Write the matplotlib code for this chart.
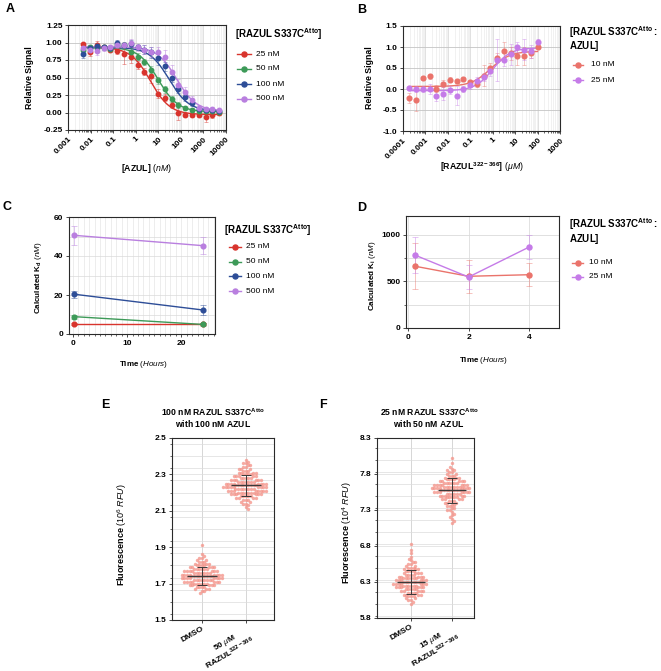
import numpy as np
import matplotlib
matplotlib.use("Agg")
import matplotlib.pyplot as plt
from matplotlib.lines import Line2D
from matplotlib.colors import to_rgba
from matplotlib.ticker import LogLocator, NullFormatter, MultipleLocator

plt.rcParams['font.family'] = ['Liberation Sans', 'DejaVu Sans']
plt.rcParams['mathtext.fontset'] = 'custom'
plt.rcParams['mathtext.rm'] = 'Liberation Sans'
plt.rcParams['mathtext.it'] = 'Liberation Sans:italic'
plt.rcParams['mathtext.bf'] = 'Liberation Sans:bold'
plt.rcParams['mathtext.sf'] = 'Liberation Sans'

# ---------------- DATA ----------------
# Panel A : [AZUL] (nM) titration, 4 probe concentrations
azul_nM = [0.00477, 0.00954, 0.0191, 0.0381, 0.0763, 0.153, 0.305, 0.610, 1.22, 2.44,
           4.88, 9.77, 19.5, 39.1, 78.1, 156, 313, 625, 1250, 2500, 5000]
a_labels = ['25 nM', '50 nM', '100 nM', '500 nM']
a_25 = [0.98, 0.87, 0.97, 0.93, 0.89, 0.88, 0.84, 0.80, 0.68, 0.58, 0.52, 0.27, 0.21, 0.11,
        -0.01, -0.03, -0.03, -0.03, -0.06, -0.04, -0.01]
a_50 = [0.90, 0.93, 0.92, 0.93, 0.91, 0.96, 0.97, 0.87, 0.80, 0.72, 0.61, 0.46, 0.33, 0.19,
        0.11, 0.06, 0.04, 0.02, 0.02, 0.02, 0.01]
a_100 = [0.84, 0.92, 0.95, 0.93, 0.92, 1.00, 0.96, 0.98, 0.93, 0.90, 0.86, 0.78, 0.66, 0.49,
         0.33, 0.22, 0.13, 0.05, 0.04, 0.03, 0.02]
a_500 = [0.92, 0.90, 0.88, 0.92, 0.94, 0.97, 0.97, 1.00, 0.93, 0.90, 0.87, 0.86, 0.79, 0.58,
         0.40, 0.30, 0.18, 0.07, 0.05, 0.05, 0.03]
a_err_25 = [0.02, 0.06, 0.05, 0.02, 0.03, 0.04, 0.15, 0.10, 0.06, 0.05, 0.10, 0.06, 0.05, 0.04,
            0.10, 0.04, 0.04, 0.04, 0.08, 0.04, 0.03]
a_err_50 = [0.04, 0.04, 0.05, 0.03, 0.03, 0.04, 0.04, 0.05, 0.05, 0.04, 0.05, 0.05, 0.05, 0.04,
            0.04, 0.03, 0.03, 0.02, 0.02, 0.02, 0.02]
a_err_100 = [0.06, 0.05, 0.04, 0.03, 0.03, 0.03, 0.03, 0.05, 0.04, 0.06, 0.08, 0.10, 0.06, 0.06,
             0.05, 0.05, 0.04, 0.03, 0.03, 0.02, 0.02]
a_err_500 = [0.04, 0.05, 0.06, 0.04, 0.03, 0.05, 0.04, 0.05, 0.05, 0.06, 0.07, 0.08, 0.10, 0.10,
             0.08, 0.06, 0.05, 0.04, 0.03, 0.03, 0.02]
# fit parameters (top, bottom, IC50 nM, hill)
a_fit = [(0.93, -0.03, 4.5, 1.0), (0.93, 0.01, 10.0, 1.0), (0.93, 0.02, 30.0, 1.0), (0.94, 0.02, 65.0, 1.0)]

# Panel B : [RAZUL 322-366] (uM)
razul_uM = [0.000191, 0.000381, 0.000763, 0.00153, 0.00305, 0.00610, 0.0122, 0.0244, 0.0488,
            0.0977, 0.195, 0.391, 0.781, 1.56, 3.13, 6.25, 12.5, 25.0, 50.0, 100.0]
b_labels = ['10 nM', '25 nM']
b_10 = [-0.21, -0.27, 0.27, 0.30, 0.01, 0.13, 0.22, 0.19, 0.24, 0.17, 0.13, 0.31, 0.50, 0.75,
        0.91, 0.85, 0.78, 0.78, 0.85, 1.00]
b_25 = [0.03, -0.01, -0.01, 0.01, -0.16, -0.11, -0.03, -0.16, 0.00, 0.09, 0.19, 0.29, 0.43, 0.69,
        0.70, 0.83, 1.00, 0.94, 0.90, 1.13]
b_err_10 = [0.12, 0.26, 0.05, 0.06, 0.08, 0.08, 0.06, 0.05, 0.05, 0.05, 0.08, 0.25, 0.12, 0.10,
            0.20, 0.15, 0.22, 0.22, 0.10, 0.05]
b_err_25 = [0.05, 0.05, 0.06, 0.12, 0.12, 0.15, 0.10, 0.22, 0.06, 0.08, 0.10, 0.10, 0.12, 0.50,
            0.15, 0.25, 0.12, 0.25, 0.15, 0.05]
b_fit = [(0.90, 0.06, 0.8, 1.0), (0.98, -0.04, 1.0, 1.1)]

# Panel C : calculated Kd (nM) vs time (h)
time_c = [0.25, 24]
c_labels = ['25 nM', '50 nM', '100 nM', '500 nM']
kd_25 = [5.0, 5.0]
kd_50 = [8.9, 4.9]
kd_100 = [20.4, 12.3]
kd_500 = [50.6, 45.3]
kd_err_25 = [0.5, 0.5]
kd_err_50 = [1.0, 0.8]
kd_err_100 = [1.8, 2.5]
kd_err_500 = [4.8, 4.3]

# Panel D : calculated Ki (nM) vs time (h)
time_d = [0.25, 2, 4]
d_labels = ['10 nM', '25 nM']
ki_10 = [661, 554, 571]
ki_25 = [779, 546, 868]
ki_err_10 = [245, 178, 122]
ki_err_25 = [195, 125, 130]

# Panel E : fluorescence (10^6 RFU), swarm as histogram (level start, step, counts)
e_step = 0.01
e_dmso_start = 1.65
e_dmso_counts = [1, 2, 3, 4, 5, 6, 7, 8, 8, 9, 8, 7, 7, 6, 5, 4, 3, 3, 2, 2, 1, 1, 0, 0, 0, 0, 1]
e_razul_start = 2.11
e_razul_counts = [1, 1, 1, 2, 2, 3, 4, 5, 6, 7, 8, 8, 9, 9, 8, 7, 6, 5, 5, 4, 4, 3, 3, 2, 2, 2, 1, 1]
# Panel F : fluorescence (10^4 RFU)
f_step = 0.025
f_dmso_start = 6.0
f_dmso_counts = [1, 1, 2, 2, 3, 4, 4, 5, 5, 6, 6, 7, 7, 6, 6, 5, 4, 4, 4, 3, 3, 2, 2, 2, 1, 1, 1,
                 0, 1, 0, 1, 0, 0, 1]
f_razul_start = 7.125
f_razul_counts = [1, 1, 1, 1, 1, 1, 1, 2, 2, 2, 2, 3, 3, 4, 5, 5, 6, 7, 8, 8, 7, 7, 6, 5, 4, 3,
                  3, 2, 2, 2, 1, 1, 0, 1, 0, 0, 1]

# ---------------- STYLE ----------------
col_A = ['#d8342d', '#3d9a58', '#2d4d97', '#b97fdf']
col_B = ['#ea736b', '#c57be8']
dot_col = '#f4968c'

W, H = 661, 671
fig = plt.figure(figsize=(W / 100, H / 100), dpi=100)


def px_axes(l, t, r, b):
    return fig.add_axes([l / W, 1 - b / H, (r - l) / W, (b - t) / H])


def ftext(x, y, s, **kw):
    return fig.text(x / W, 1 - y / H, s, **kw)


def style(ax):
    for s in ax.spines.values():
        s.set_color('#2a2a2a')
        s.set_linewidth(0.8)
    ax.tick_params(which='major', length=2.5, width=0.6, labelsize=6, pad=1.5, color='#2a2a2a')
    ax.tick_params(which='minor', length=1.5, width=0.5, color='#2a2a2a')
    ax.set_axisbelow(True)


def legend_item(x0, x1, y, color, label, tx, ms=3.6):
    yy = 1 - y / H
    fig.add_artist(Line2D([x0 / W, x1 / W], [yy, yy], color=color, lw=1.0, transform=fig.transFigure))
    fig.add_artist(Line2D([(x0 + x1) / 2 / W], [yy], color=color, marker='o', ms=ms, lw=0,
                          transform=fig.transFigure))
    fig.text(tx / W, yy, label, fontsize=6, va='center', ha='left')


def bold_ticks(ax, axis, ticks, labels, **kw):
    if axis == 'x':
        ax.set_xticks(ticks, labels=labels, fontweight='bold', fontsize=6, **kw)
    else:
        ax.set_yticks(ticks, labels=labels, fontweight='bold', fontsize=6, **kw)


def four_pl(x, top, bot, c50, hill, sign):
    return bot + (top - bot) / (1 + (x / c50) ** (sign * hill))


# ---------------- PANEL A ----------------
axA = px_axes(68, 25, 226, 130)
style(axA)
axA.set_xscale('log')
axA.set_xlim(1e-3, 1e4)
axA.set_ylim(-0.25, 1.25)
xs = np.logspace(np.log10(azul_nM[0]), np.log10(azul_nM[-1]), 300)
for vals, errs, fit, c in zip([a_25, a_50, a_100, a_500],
                              [a_err_25, a_err_50, a_err_100, a_err_500], a_fit, col_A):
    axA.plot(xs, four_pl(xs, *fit, 1), color=c, lw=1.0, zorder=3)
    axA.errorbar(azul_nM, vals, yerr=errs, fmt='o', ms=3.2, color=c, ecolor=to_rgba(c, 0.5),
                 elinewidth=0.6, capsize=1.5, capthick=0.6, zorder=4)
xt = [1e-3, 1e-2, 1e-1, 1, 10, 100, 1000, 10000]
bold_ticks(axA, 'x', xt, ['0.001', '0.01', '0.1', '1', '10', '100', '1000', '10000'],
           rotation=45, ha='right', rotation_mode='anchor')
axA.xaxis.set_minor_locator(LogLocator(base=10, subs=np.arange(2, 10), numticks=30))
axA.xaxis.set_minor_formatter(NullFormatter())
yt = [-0.25, 0, 0.25, 0.5, 0.75, 1.0, 1.25]
bold_ticks(axA, 'y', yt, ['%.2f' % v for v in yt])
axA.grid(True, which='minor', axis='x', color='#ececec', lw=0.5)
axA.grid(True, which='major', axis='x', color='#dcdcdc', lw=0.6)
axA.grid(True, which='major', axis='y', color='#c4c4c4', lw=0.6)

ftext(29, 78, 'Relative Signal', rotation=90, ha='center', va='center', fontsize=6.3, fontweight='bold')
ftext(147, 168, r'$\mathbf{[AZUL]}$ $\mathit{(nM)}$', ha='center', va='center', fontsize=6.3)
ftext(235, 38.5, r'$\mathbf{[RAZUL\ S337C^{Atto}]}$', ha='left', va='baseline', fontsize=7)
for i, (lab, c) in enumerate(zip(a_labels, col_A)):
    legend_item(237, 251, 54 + 15 * i, c, lab, 256)

# ---------------- PANEL B ----------------
axB = px_axes(403, 26, 560, 131)
style(axB)
axB.set_xscale('log')
axB.set_xlim(1e-4, 1e3)
axB.set_ylim(-1.0, 1.5)
xs = np.logspace(np.log10(razul_uM[0]), np.log10(razul_uM[-1]), 300)
for vals, errs, fit, c in zip([b_10, b_25], [b_err_10, b_err_25], b_fit, col_B):
    axB.plot(xs, four_pl(xs, *fit, -1), color=c, lw=1.0, zorder=3)
    axB.errorbar(razul_uM, vals, yerr=errs, fmt='o', ms=3.4, color=c, ecolor=to_rgba(c, 0.45),
                 elinewidth=0.6, capsize=1.5, capthick=0.6, zorder=4)
xt = [1e-4, 1e-3, 1e-2, 1e-1, 1, 10, 100, 1000]
bold_ticks(axB, 'x', xt, ['0.0001', '0.001', '0.01', '0.1', '1', '10', '100', '1000'],
           rotation=45, ha='right', rotation_mode='anchor')
axB.xaxis.set_minor_locator(LogLocator(base=10, subs=np.arange(2, 10), numticks=30))
axB.xaxis.set_minor_formatter(NullFormatter())
yt = [-1.0, -0.5, 0.0, 0.5, 1.0, 1.5]
bold_ticks(axB, 'y', yt, ['%.1f' % v for v in yt])
axB.grid(True, which='minor', axis='x', color='#ececec', lw=0.5)
axB.grid(True, which='major', axis='x', color='#dcdcdc', lw=0.6)
axB.grid(True, which='major', axis='y', color='#c4c4c4', lw=0.6)

ftext(369, 78, 'Relative Signal', rotation=90, ha='center', va='center', fontsize=6.3, fontweight='bold')
ftext(482, 167, r'$\mathbf{[RAZUL^{322-366}]}$ $\mathit{(\mu M)}$', ha='center', va='center', fontsize=6.3)
ftext(569, 35.5, r'$\mathbf{[RAZUL\ S337C^{Atto}:}$', ha='left', va='baseline', fontsize=7)
ftext(569, 49, r'$\mathbf{AZUL]}$', ha='left', va='baseline', fontsize=7)
for i, (lab, c) in enumerate(zip(b_labels, col_B)):
    legend_item(573, 583, 65 + 15 * i, c, lab, 591)

# ---------------- PANEL C ----------------
axC = px_axes(69, 217, 215, 334)
style(axC)
axC.set_xlim(-0.7, 26.2)
axC.set_ylim(0, 60)
for vals, errs, c in zip([kd_25, kd_50, kd_100, kd_500],
                         [kd_err_25, kd_err_50, kd_err_100, kd_err_500], col_A):
    axC.errorbar(time_c, vals, yerr=errs, fmt='-o', ms=3.4, lw=1.0, color=c,
                 ecolor=to_rgba(c, 0.55), elinewidth=0.6, capsize=2, capthick=0.6, zorder=4)
bold_ticks(axC, 'x', [0, 10, 20], ['0', '10', '20'])
axC.xaxis.set_minor_locator(MultipleLocator(1))
bold_ticks(axC, 'y', [0, 20, 40, 60], ['0', '20', '40', '60'])
axC.yaxis.set_minor_locator(MultipleLocator(10))
axC.tick_params(axis='y', which='minor', length=0)
axC.grid(True, which='both', axis='x', color='#e6e6e6', lw=0.5)
axC.grid(True, which='both', axis='y', color='#dadada', lw=0.5)

ftext(39, 278, r'$\mathbf{Calculated\ K_d}$ $\mathit{(nM)}$', rotation=90, ha='center',
      va='center', fontsize=5.8)
ftext(144, 364, r'$\mathbf{Time}$ $\mathit{(Hours)}$', ha='center', va='center', fontsize=5.8)
ftext(224, 233.5, r'$\mathbf{[RAZUL\ S337C^{Atto}]}$', ha='left', va='baseline', fontsize=7)
for i, (lab, c) in enumerate(zip(c_labels, col_A)):
    legend_item(229, 241, 247 + 14.7 * i, c, lab, 246)

# ---------------- PANEL D ----------------
axD = px_axes(406, 216, 559, 328)
style(axD)
axD.set_xlim(-0.06, 4.98)
axD.set_ylim(0, 1200)
for vals, errs, c in zip([ki_10, ki_25], [ki_err_10, ki_err_25], col_B):
    axD.errorbar(time_d, vals, yerr=errs, fmt='-o', ms=3.6, lw=1.0, color=c,
                 ecolor=to_rgba(c, 0.5), elinewidth=0.6, capsize=2, capthick=0.6, zorder=4)
bold_ticks(axD, 'x', [0, 2, 4], ['0', '2', '4'])
axD.xaxis.set_minor_locator(MultipleLocator(1))
axD.tick_params(axis='x', which='minor', length=0)
bold_ticks(axD, 'y', [0, 500, 1000], ['0', '500', '1000'])
axD.yaxis.set_minor_locator(MultipleLocator(250))
axD.grid(True, which='major', axis='x', color='#dddddd', lw=0.6)
axD.grid(True, which='both', axis='y', color='#dadada', lw=0.6)

ftext(373, 276, r'$\mathbf{Calculated\ K_i}$ $\mathit{(nM)}$', rotation=90, ha='center',
      va='center', fontsize=5.8)
ftext(484, 361, r'$\mathbf{Time}$ $\mathit{(Hours)}$', ha='center', va='center', fontsize=5.8)
ftext(569, 227.5, r'$\mathbf{[RAZUL\ S337C^{Atto}:}$', ha='left', va='baseline', fontsize=7)
ftext(569, 241.5, r'$\mathbf{AZUL]}$', ha='left', va='baseline', fontsize=7)
for i, (lab, c) in enumerate(zip(d_labels, col_B)):
    legend_item(572, 583, 263 + 14 * i, c, lab, 589)


# ---------------- PANELS E / F ----------------
def expand(start, step, counts):
    levels = start + step * np.arange(len(counts))
    return np.repeat(levels, counts)


def beeswarm(vals, ax, dmin):
    """x offsets (data units) so that points are at least dmin pixels apart (centre-out)."""
    x0, x1 = ax.get_xlim()
    y0, y1 = ax.get_ylim()
    xppu = ax.bbox.width / (x1 - x0)
    yppu = ax.bbox.height / (y1 - y0)
    vals = np.asarray(vals, float)
    med = np.median(vals)
    order = np.argsort(np.abs(vals - med), kind='stable')
    ys = vals * yppu
    xs = np.zeros(len(vals))
    placed = []
    flip = 1
    for idx in order:
        y = ys[idx]
        forb = []
        for px, py in placed:
            dy = abs(py - y)
            if dy < dmin:
                w = np.sqrt(dmin ** 2 - dy ** 2)
                forb.append((px - w, px + w))
        cands = [0.0] + [a for a, b in forb] + [b for a, b in forb]
        cands = sorted(cands, key=lambda c: (round(abs(c), 6), -flip * np.sign(c)))
        for c in cands:
            if all(not (a + 1e-9 < c < b - 1e-9) for a, b in forb):
                break
        flip = -flip
        xs[idx] = c
        placed.append((c, y))
    return xs / xppu


def swarm_panel(ax, groups, ylim, xlim, major, dmin):
    style(ax)
    ax.set_xlim(*xlim)
    ax.set_ylim(*ylim)
    for i, g in enumerate(groups):
        off = beeswarm(g, ax, dmin)
        ax.scatter(i + off, g, s=6, color=dot_col, alpha=0.8, linewidths=0, zorder=2)
        m = np.median(g)
        sd = np.std(g)
        ax.hlines(m, i - 0.34, i + 0.34, color='#3a3a3a', lw=1.0, zorder=5)
        ax.errorbar([i], [m], yerr=[sd], fmt='none', ecolor='#3a3a3a', elinewidth=0.7,
                    capsize=3.5, capthick=0.7, zorder=5)
    ticks = np.arange(ylim[0], ylim[1] + major / 2, major)
    bold_ticks(ax, 'y', ticks, ['%.1f' % t for t in ticks])
    ax.yaxis.set_minor_locator(MultipleLocator(major / 3))
    ax.grid(True, which='both', axis='y', color='#dcdcdc', lw=0.5)
    ax.grid(True, which='major', axis='x', color='#d0d0d0', lw=0.6)


axE = px_axes(172, 438, 274, 620)
swarm_panel(axE, [expand(e_dmso_start, e_step, e_dmso_counts),
                  expand(e_razul_start, e_step, e_razul_counts)], (1.5, 2.5), (-0.68, 1.64), 0.2, 2.6)
axE.set_xticks([0, 1], labels=['DMSO', '50 $\\mathit{\\mu}$M\nRAZUL$^{\\mathbf{322-366}}$'],
               fontweight='bold', fontsize=6, rotation=30, ha='right', rotation_mode='anchor',
               multialignment='center', linespacing=1.0)

axF = px_axes(377, 438, 474, 618)
swarm_panel(axF, [expand(f_dmso_start, f_step, f_dmso_counts),
                  expand(f_razul_start, f_step, f_razul_counts)], (5.8, 8.3), (-0.83, 1.54), 0.5, 2.6)
axF.set_xticks([0, 1], labels=['DMSO', '15 $\\mathit{\\mu}$M\nRAZUL$^{\\mathbf{322-366}}$'],
               fontweight='bold', fontsize=6, rotation=30, ha='right', rotation_mode='anchor',
               multialignment='center', linespacing=1.0)
for ax in (axE, axF):
    ax.tick_params(axis='x', pad=1)

ftext(213, 416, r'$\mathbf{100\ nM\ RAZUL\ S337C^{Atto}}$', ha='center', va='baseline', fontsize=6.2)
ftext(213, 427, r'$\mathbf{with\ 100\ nM\ AZUL}$', ha='center', va='baseline', fontsize=6.2)
ftext(429, 416, r'$\mathbf{25\ nM\ RAZUL\ S337C^{Atto}}$', ha='center', va='baseline', fontsize=6.2)
ftext(429, 427, r'$\mathbf{with\ 50\ nM\ AZUL}$', ha='center', va='baseline', fontsize=6.2)
ftext(122, 535, r'$\mathbf{Fluorescence}$ $\mathit{(10^6\ RFU)}$', rotation=90, ha='center',
      va='center', fontsize=6.5)
ftext(347, 533, r'$\mathbf{Fluorescence}$ $\mathit{(10^4\ RFU)}$', rotation=90, ha='center',
      va='center', fontsize=6.5)

# panel letters
for s, x, y in [('A', 10, 9), ('B', 362, 10), ('C', 7, 207), ('D', 362, 208), ('E', 105, 405),
                ('F', 323, 405)]:
    ftext(x, y, s, fontsize=9, fontweight='bold', ha='center', va='center')

fig.savefig('out.png', dpi=100)
